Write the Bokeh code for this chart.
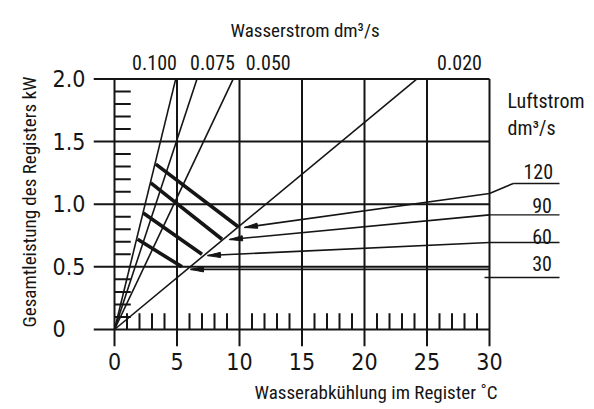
import math
from bokeh.plotting import figure
from bokeh.models import Range1d, LinearAxis, FixedTicker, Label, Title
from bokeh.embed import file_html
from bokeh.resources import INLINE

# ---------------- data ----------------
# water flow lines (dm3/s) from the origin; dT (degC) where each line reaches 2.0 kW
water_flows = ["0.100", "0.075", "0.050", "0.020"]
water_dT_at_2kW = [4.9, 6.6, 9.5, 24.2]
water_label_dT = [3.2, 7.84, 12.3, 27.6]     # where the flow labels stand on top

# air flow curves (dm3/s): thick segments between the 0.100 and the 0.020 line
air_flows = ["120", "90", "60", "30"]
air_start_dT = [3.3, 2.9, 2.3, 1.85]
air_start_kW = [1.32, 1.17, 0.93, 0.72]
air_end_dT = [9.9, 8.6, 7.0, 5.4]
air_end_kW = [0.82, 0.72, 0.60, 0.50]

# arrows / leaders to the air flow labels
arrow_tip_dT = [10.4, 9.2, 7.44, 6.08]
arrow_tip_kW = [0.814, 0.718, 0.59, 0.48]
leader_kW_at_border = [1.085, 0.915, 0.694, 0.48]
underline_start_dT = [31.9, 30.0, 30.0, 29.6]
underline_kW = [1.165, 0.915, 0.694, 0.415]
underline_end_dT = 35.6

# axes
x_ticks = [0, 5, 10, 15, 20, 25, 30]
y_ticks = [0, 0.5, 1.0, 1.5, 2.0]
y_tick_labels = ["0\u2008\u2007", "0.5", "1.0", "1.5", "2.0"]
x_minor = [v for v in range(1, 30) if v % 5 != 0]
y_minor = [round(v * 0.1, 1) for v in range(1, 20) if v % 5 != 0]

x_title = "Wasserabk\u00fchlung im Register \u02daC"
y_title = "Gesamtleistung des Registers kW"
top_title = "Wasserstrom dm\u00b3/s"

# ---------------- layout ----------------
W, H = 594, 409
BL, BR, BT, BB = 93, 0, 76, 63
X0, X1 = -1.68, 38.4
Y0, Y1 = -0.1357, 2.019
kx = (W - BL - BR) / (X1 - X0)
ky = (H - BT - BB) / (Y1 - Y0)

INK = "#151515"
NARROW = "Roboto Condensed"
DIGITS = "DejaVu Sans Condensed"

p = figure(width=W, height=H, x_range=Range1d(X0, X1), y_range=Range1d(Y0, Y1),
           output_backend="svg", toolbar_location=None,
           min_border_left=BL, min_border_right=BR, min_border_top=BT, min_border_bottom=BB)
p.outline_line_color = None
p.grid.visible = False
p.background_fill_color = "white"
p.border_fill_color = "white"

def style_axis(ax, font, size, standoff):
    ax.axis_line_color = None
    ax.major_tick_line_color = None
    ax.minor_tick_line_color = None
    ax.major_tick_out = 0
    ax.major_tick_in = 0
    ax.minor_tick_out = 0
    ax.minor_tick_in = 0
    ax.major_label_text_font = font
    ax.major_label_text_font_size = size
    ax.major_label_text_color = INK
    ax.major_label_standoff = standoff

xa = p.xaxis[0]
xa.ticker = FixedTicker(ticks=x_ticks)
style_axis(xa, DIGITS, "23px", 6)

ya = p.yaxis[0]
ya.ticker = FixedTicker(ticks=y_ticks)
ya.major_label_overrides = {t: l for t, l in zip(y_ticks, y_tick_labels)}
style_axis(ya, DIGITS, "23px", 8)

top = LinearAxis(ticker=FixedTicker(ticks=water_label_dT),
                 major_label_overrides={t: l for t, l in zip(water_label_dT, water_flows)})
style_axis(top, NARROW, "20px", 7)
p.add_layout(top, "above")

def side_title(text, side, offset, standoff):
    t = Title(text=text, align="left", offset=offset, standoff=standoff,
              text_font=NARROW, text_font_size="19px", text_font_style="normal",
              text_color=INK)
    p.add_layout(t, side)

side_title(top_title, "above", 137, 19)
side_title(x_title, "below", 161, 12)
side_title(y_title, "left", 19, 17)

# grid lines
p.multi_line(xs=[[x, x] for x in x_ticks], ys=[[Y0, y_ticks[-1]] for _ in x_ticks],
             line_color=INK, line_width=2)
p.multi_line(xs=[[X0, x_ticks[-1]] for _ in y_ticks], ys=[[y, y] for y in y_ticks],
             line_color=INK, line_width=2)
# minor ticks
p.multi_line(xs=[[x, x] for x in x_minor], ys=[[0, 0.13] for _ in x_minor],
             line_color=INK, line_width=2)
p.multi_line(xs=[[0, 1.3] for _ in y_minor], ys=[[y, y] for y in y_minor],
             line_color=INK, line_width=2)

# water flow lines
p.multi_line(xs=[[0, d] for d in water_dT_at_2kW], ys=[[0, 2.0] for _ in water_dT_at_2kW],
             line_color=INK, line_width=1.6)

# air flow thick lines
p.multi_line(xs=[[a, b] for a, b in zip(air_start_dT, air_end_dT)],
             ys=[[a, b] for a, b in zip(air_start_kW, air_end_kW)],
             line_color=INK, line_width=3.6)

# leaders
lx, ly = [], []
for tx, ty, yb, us, uy in zip(arrow_tip_dT, arrow_tip_kW, leader_kW_at_border, underline_start_dT, underline_kW):
    xs = [tx, 30.0]
    ys = [ty, yb]
    if us > 30.0:
        xs.append(us)
        ys.append(uy)
    lx.append(xs)
    ly.append(ys)
p.multi_line(xs=lx, ys=ly, line_color=INK, line_width=1.6)
p.multi_line(xs=[[us, underline_end_dT] for us in underline_start_dT],
             ys=[[uy, uy] for uy in underline_kW], line_color=INK, line_width=1.4)

# arrow heads
hx, hy = [], []
L, HW = 13.0, 2.6
for tx, ty, yb in zip(arrow_tip_dT, arrow_tip_kW, leader_kW_at_border):
    dx = (30.0 - tx) * kx
    dy = (yb - ty) * ky
    n = math.hypot(dx, dy)
    ux, uy = dx / n, dy / n
    bx, by = ux * L, uy * L
    px_, py_ = -uy * HW, ux * HW
    hx.append([tx, tx + (bx + px_) / kx, tx + (bx - px_) / kx])
    hy.append([ty, ty + (by + py_) / ky, ty + (by - py_) / ky])
p.patches(xs=hx, ys=hy, fill_color=INK, line_color=INK, line_width=1)

# texts inside the frame
def lab(x, y, t, size, align="left"):
    p.add_layout(Label(x=x, y=y, text=t, text_font=NARROW, text_font_size=size,
                       text_align=align, text_baseline="alphabetic", text_color=INK,
                       y_offset=6))

lab(31.44, 1.772, "Luftstrom", "20px")
lab(31.44, 1.564, "dm\u00b3/s", "20px")
label_center_dT = [33.9, 34.2, 34.2, 34.2]
label_base_kW = [1.213, 0.942, 0.694, 0.479]
for t, cx, by in zip(air_flows, label_center_dT, label_base_kW):
    lab(cx, by, t, "20px", align="center")

open("out.html", "w").write(file_html(p, INLINE))
